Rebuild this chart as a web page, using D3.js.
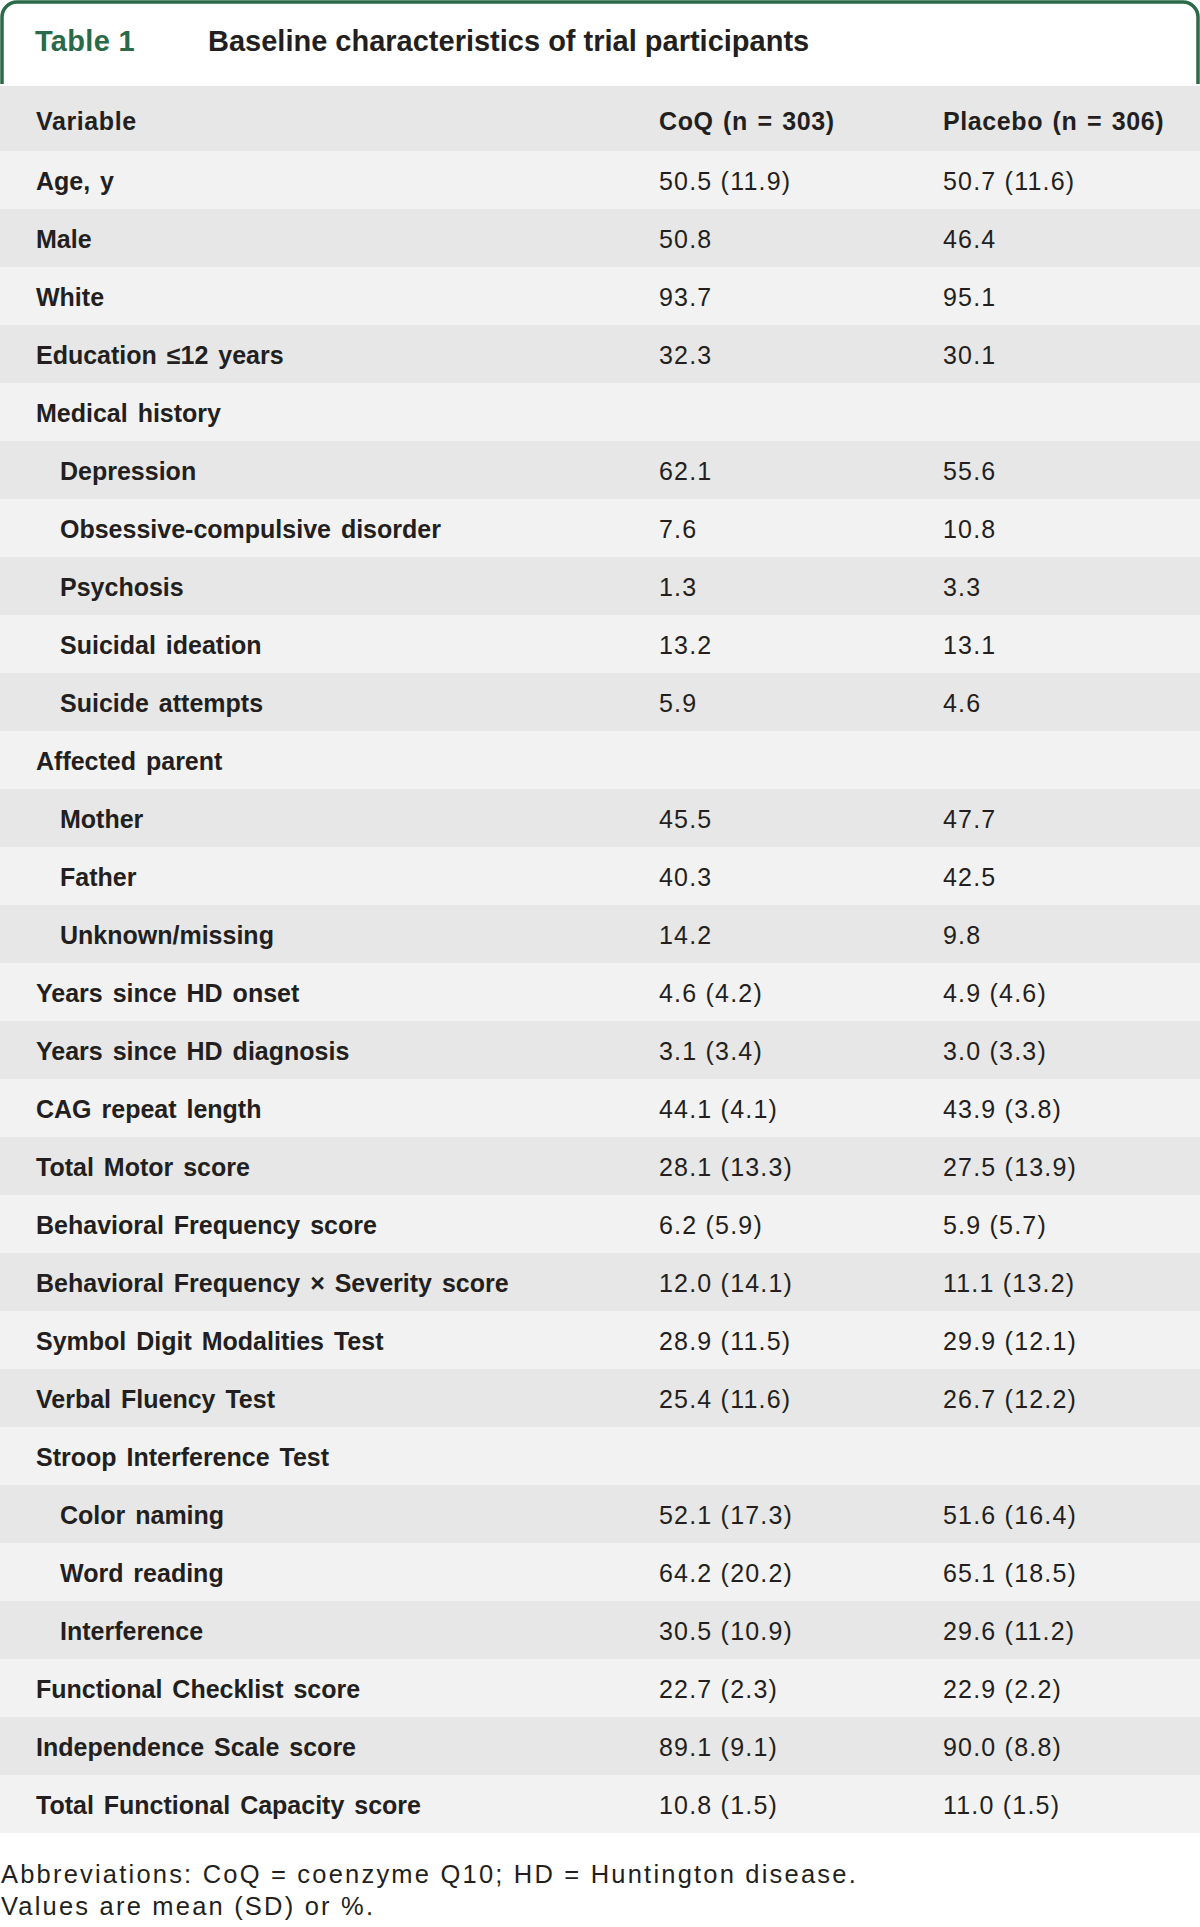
<!DOCTYPE html>
<html>
<head>
<meta charset="utf-8">
<script src="https://cdn.jsdelivr.net/npm/d3@7"></script>
<style>
  html, body { margin: 0; padding: 0; background: #fff; }
  svg { display: block; }
  text { font-family: "Liberation Sans", Arial, sans-serif; fill: #231f20; }
</style>
</head>
<body>
<svg id="table"></svg>
<script>
document.addEventListener('DOMContentLoaded', function() {

  // Column headings
  const columns = ["Variable", "CoQ (n = 303)", "Placebo (n = 306)"];

  // Row labels (indented sub-rows flagged below)
  const variables = [
    "Age, y", "Male", "White", "Education \u226412 years", "Medical history",
    "Depression", "Obsessive-compulsive disorder", "Psychosis", "Suicidal ideation",
    "Suicide attempts", "Affected parent", "Mother", "Father", "Unknown/missing",
    "Years since HD onset", "Years since HD diagnosis", "CAG repeat length",
    "Total Motor score", "Behavioral Frequency score",
    "Behavioral Frequency \u00d7 Severity score", "Symbol Digit Modalities Test",
    "Verbal Fluency Test", "Stroop Interference Test", "Color naming",
    "Word reading", "Interference", "Functional Checklist score",
    "Independence Scale score", "Total Functional Capacity score"
  ];

  const indented = [
    false, false, false, false, false,
    true, true, true, true,
    true, false, true, true, true,
    false, false, false,
    false, false,
    false, false,
    false, false, true,
    true, true, false,
    false, false
  ];

  const coqValues = [
    "50.5 (11.9)", "50.8", "93.7", "32.3", "",
    "62.1", "7.6", "1.3", "13.2",
    "5.9", "", "45.5", "40.3", "14.2",
    "4.6 (4.2)", "3.1 (3.4)", "44.1 (4.1)",
    "28.1 (13.3)", "6.2 (5.9)",
    "12.0 (14.1)", "28.9 (11.5)",
    "25.4 (11.6)", "", "52.1 (17.3)",
    "64.2 (20.2)", "30.5 (10.9)", "22.7 (2.3)",
    "89.1 (9.1)", "10.8 (1.5)"
  ];

  const placeboValues = [
    "50.7 (11.6)", "46.4", "95.1", "30.1", "",
    "55.6", "10.8", "3.3", "13.1",
    "4.6", "", "47.7", "42.5", "9.8",
    "4.9 (4.6)", "3.0 (3.3)", "43.9 (3.8)",
    "27.5 (13.9)", "5.9 (5.7)",
    "11.1 (13.2)", "29.9 (12.1)",
    "26.7 (12.2)", "", "51.6 (16.4)",
    "65.1 (18.5)", "29.6 (11.2)", "22.9 (2.2)",
    "90.0 (8.8)", "11.0 (1.5)"
  ];

  const footnotes = [
    "Abbreviations: CoQ = coenzyme Q10; HD = Huntington disease.",
    "Values are mean (SD) or %."
  ];

  // Dimensions
  const width = 1200;
  const height = 1927;
  const green = "#2b6a48";
  const lightRow = "#f2f2f2";
  const darkRow = "#e6e7e6";
  const headerTop = 86;
  const headerHeight = 65;

  const svg = d3.select('#table')
    .attr('width', width)
    .attr('height', height);

  // Column positions
  const xCol = d3.scaleOrdinal()
    .domain(columns)
    .range([36, 659, 943]);

  // Rows
  const y = d3.scaleBand()
    .domain(d3.range(variables.length))
    .range([headerTop + headerHeight, 1833]);

  // Title box with green rounded border
  const r = 15;
  svg.append('path')
    .attr('d', `M2,84 V${2 + r} A${r},${r} 0 0 1 ${2 + r},2 H${1198 - r} A${r},${r} 0 0 1 1198,${2 + r} V84`)
    .attr('fill', 'none')
    .attr('stroke', green)
    .attr('stroke-width', 3.5);

  svg.append('text')
    .attr('x', 35)
    .attr('y', 51)
    .style('font-size', '29px')
    .style('font-weight', 'bold')
    .style('letter-spacing', '0.3px')
    .style('fill', green)
    .text('Table 1');

  svg.append('text')
    .attr('x', 208)
    .attr('y', 51)
    .style('font-size', '29px')
    .style('font-weight', 'bold')
    .text('Baseline characteristics of trial participants');

  // Header row
  svg.append('rect')
    .attr('x', 0)
    .attr('y', headerTop)
    .attr('width', width)
    .attr('height', headerHeight)
    .attr('fill', darkRow);

  svg.selectAll('.col-head')
    .data(columns)
    .enter()
    .append('text')
    .attr('class', 'col-head')
    .attr('x', d => xCol(d))
    .attr('y', headerTop + 44)
    .style('font-size', '25px')
    .style('font-weight', 'bold')
    .style('letter-spacing', '0.6px')
    .style('word-spacing', '2px')
    .text(d => d);

  // Body rows
  const rows = svg.selectAll('.row')
    .data(variables)
    .enter()
    .append('g')
    .attr('class', 'row')
    .attr('transform', (d, i) => `translate(0,${y(i)})`);

  rows.append('rect')
    .attr('width', width)
    .attr('height', y.bandwidth())
    .attr('fill', (d, i) => i % 2 === 0 ? lightRow : darkRow);

  rows.append('text')
    .attr('x', (d, i) => xCol(columns[0]) + (indented[i] ? 24 : 0))
    .attr('y', 38.5)
    .style('font-size', '25px')
    .style('font-weight', 'bold')
    .style('word-spacing', '3px')
    .text(d => d);

  rows.append('text')
    .attr('x', xCol(columns[1]))
    .attr('y', 38.5)
    .style('font-size', '25px')
    .style('letter-spacing', '1.2px')
    .text((d, i) => coqValues[i]);

  rows.append('text')
    .attr('x', xCol(columns[2]))
    .attr('y', 38.5)
    .style('font-size', '25px')
    .style('letter-spacing', '1.2px')
    .text((d, i) => placeboValues[i]);

  // Footnotes
  svg.selectAll('.foot')
    .data(footnotes)
    .enter()
    .append('text')
    .attr('class', 'foot')
    .attr('x', 1)
    .attr('y', (d, i) => 1883 + i * 32)
    .style('font-size', '25.5px')
    .style('letter-spacing', '2.2px')
    .text(d => d);
});
</script>
</body>
</html>
